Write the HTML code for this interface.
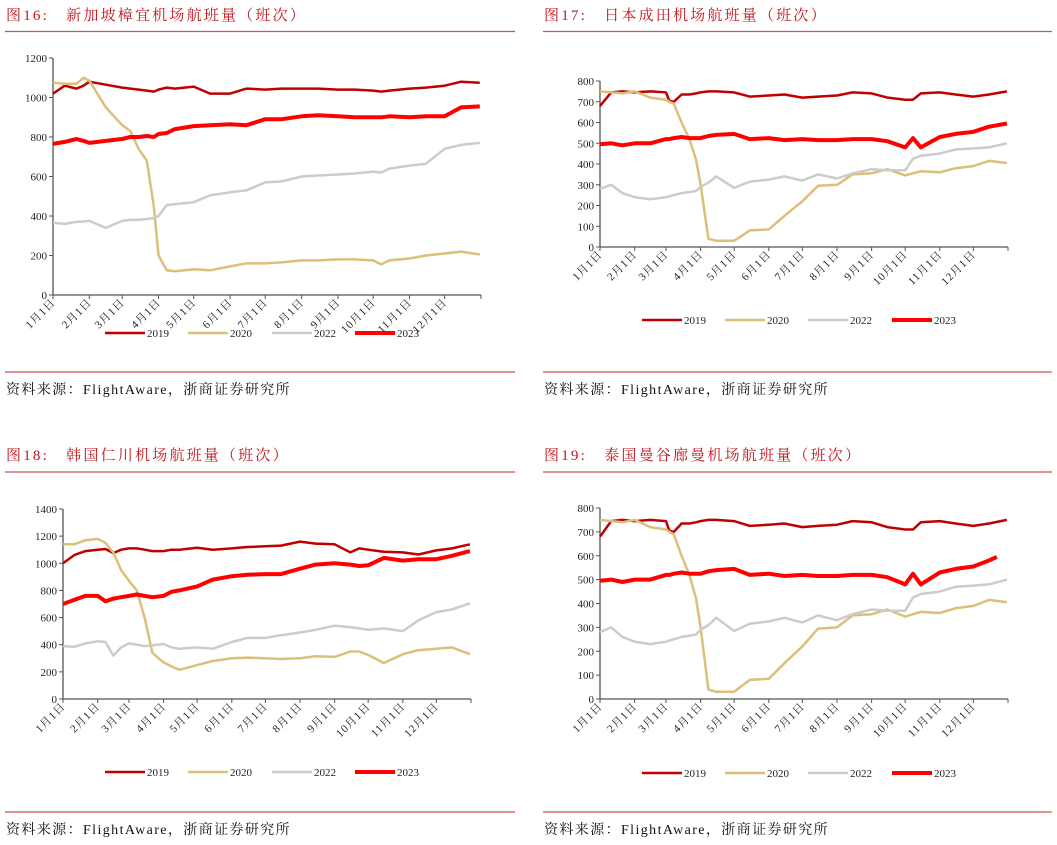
<!DOCTYPE html>
<html><head><meta charset="utf-8">
<style>
body{margin:0;background:#fff;}
svg{display:block;font-family:"Liberation Serif","Noto Serif CJK SC",serif;}
.title{font-family:"Liberation Serif","Noto Serif CJK SC",serif;font-size:15px;fill:#c0141c;letter-spacing:2.2px;}
.src{font-family:"Liberation Serif","Noto Serif CJK SC",serif;font-size:14px;fill:#111;letter-spacing:1.4px;}
.tick{font-size:11px;fill:#222;}
.leg{font-size:11px;fill:#222;}
</style></head>
<body>
<svg id="svg" width="1057" height="845" viewBox="0 0 1057 845" xmlns="http://www.w3.org/2000/svg">
<text class="title" x="6" y="20">图16:　新加坡樟宜机场航班量（班次）</text>
<line x1="5" y1="31.5" x2="515" y2="31.5" stroke="#d05050" stroke-width="1.2"/>
<line x1="5" y1="372" x2="515" y2="372" stroke="#d05050" stroke-width="1.2"/>
<text class="src" x="6" y="394">资料来源：FlightAware，浙商证券研究所</text>

<text class="title" x="544" y="20">图17:　日本成田机场航班量（班次）</text>
<line x1="543" y1="31.5" x2="1052" y2="31.5" stroke="#d05050" stroke-width="1.2"/>
<line x1="543" y1="372" x2="1052" y2="372" stroke="#d05050" stroke-width="1.2"/>
<text class="src" x="544" y="394">资料来源：FlightAware，浙商证券研究所</text>

<text class="title" x="6" y="460">图18:　韩国仁川机场航班量（班次）</text>
<line x1="5" y1="472" x2="515" y2="472" stroke="#d05050" stroke-width="1.2"/>
<line x1="5" y1="812" x2="515" y2="812" stroke="#d05050" stroke-width="1.2"/>
<text class="src" x="6" y="834">资料来源：FlightAware，浙商证券研究所</text>

<text class="title" x="544" y="460">图19:　泰国曼谷廊曼机场航班量（班次）</text>
<line x1="543" y1="472" x2="1052" y2="472" stroke="#d05050" stroke-width="1.2"/>
<line x1="543" y1="812" x2="1052" y2="812" stroke="#d05050" stroke-width="1.2"/>
<text class="src" x="544" y="834">资料来源：FlightAware，浙商证券研究所</text>
</svg>
<script>
const monthLabels=["1月1日","2月1日","3月1日","4月1日","5月1日","6月1日","7月1日","8月1日","9月1日","10月1日","11月1日","12月1日"];
const monthDays=[0,31,59,90,120,151,181,212,243,273,304,334];
const seriesNames=["2019","2020","2022","2023"];

const sinDays=[0,10,20,26,31,45,59,66,73,80,86,90,97,104,120,134,151,165,181,195,212,226,243,257,273,280,287,304,318,334,348,364];
const sin2019=[1020,1060,1045,1060,1080,1065,1050,1045,1040,1035,1030,1040,1050,1045,1055,1020,1020,1045,1040,1045,1045,1045,1040,1040,1035,1030,1035,1045,1050,1060,1080,1075];
const sin2020=[1075,1070,1070,1100,1085,950,860,830,740,680,450,200,125,120,130,125,145,160,160,165,175,175,180,180,175,155,175,185,200,210,220,205];
const sin2022=[365,360,370,372,375,340,375,380,380,385,390,400,455,460,470,505,520,530,570,575,600,605,610,615,625,620,640,655,665,740,760,770];
const sin2023=[765,775,790,780,770,780,790,800,800,805,800,815,820,840,855,860,865,860,890,890,905,910,905,900,900,900,905,900,905,905,950,955];

const nrtDays=[0,10,20,31,45,59,62,66,73,80,86,90,97,104,120,134,151,165,181,195,212,226,243,257,273,280,287,304,318,334,348,364];
const nrt2019=[680,745,750,745,750,745,705,700,735,735,740,745,750,750,745,725,730,735,720,725,730,745,740,720,710,710,740,745,735,725,735,750];
const nrt2020=[750,745,740,750,720,710,700,690,600,520,420,300,40,30,30,80,85,150,220,295,300,350,355,375,345,355,365,360,380,390,415,405];
const nrt2022=[280,300,260,240,230,240,245,250,260,265,270,290,310,340,285,315,325,340,320,350,330,355,375,370,370,425,440,450,470,475,480,500];
const nrt2023=[495,500,490,500,500,520,520,525,530,525,525,525,535,540,545,520,525,515,520,515,515,520,520,510,480,525,480,530,545,555,580,595];

const icnDays=[0,10,20,31,38,45,52,59,66,73,80,90,97,104,120,134,151,165,181,195,212,226,243,257,265,273,287,304,318,334,348,364];
const icn2019=[1000,1060,1090,1100,1105,1075,1100,1110,1110,1100,1090,1090,1100,1100,1115,1100,1110,1120,1125,1130,1160,1145,1140,1080,1110,1100,1085,1080,1065,1095,1110,1140];
const icn2020=[1140,1140,1170,1180,1150,1080,950,870,800,600,340,270,240,215,250,280,300,305,300,295,300,315,310,350,350,325,265,330,360,370,380,330];
const icn2022=[390,385,410,425,420,320,380,410,400,390,395,405,380,370,380,370,420,450,450,470,490,510,540,530,520,510,520,500,580,640,660,705];
const icn2023=[700,730,760,760,720,740,750,760,770,760,750,760,790,800,830,880,905,915,920,920,960,990,1000,990,980,985,1040,1020,1030,1030,1055,1090];

const dmkDays=[0,10,20,31,45,59,62,66,73,80,86,90,97,104,120,134,151,165,181,195,212,226,243,257,273,280,287,304,318,334,348,364];
const dmkDays2023=[0,10,20,31,45,59,62,66,73,80,86,90,97,104,120,134,151,165,181,195,212,226,243,257,273,280,287,304,318,334,348,355];
const dmk2019=[680,745,750,745,750,745,705,700,735,735,740,745,750,750,745,725,730,735,720,725,730,745,740,720,710,710,740,745,735,725,735,750];
const dmk2020=[750,745,740,750,720,710,700,690,600,520,420,300,40,30,30,80,85,150,220,295,300,350,355,375,345,355,365,360,380,390,415,405];
const dmk2022=[280,300,260,240,230,240,245,250,260,265,270,290,310,340,285,315,325,340,320,350,330,355,375,370,370,425,440,450,470,475,480,500];
const dmk2023=[495,500,490,500,500,520,520,525,530,525,525,525,535,540,545,520,525,515,520,515,515,520,520,510,480,525,480,530,545,555,580,595];

const svg=document.getElementById('svg');
const NS="http://www.w3.org/2000/svg";
const colors=["#c00000","#dcc07a","#cccccc","#ff0000"];
const widths=[2.5,2.5,2.5,4];
function mk(tag,attrs){const e=document.createElementNS(NS,tag);for(const k in attrs)e.setAttribute(k,attrs[k]);svg.appendChild(e);return e;}

function chart(id,box,ymax,step,series,legY,legX){
  const xs=d=>box.x0+d/365*(box.x1-box.x0);
  const ys=v=>box.y0-v/ymax*(box.y0-box.y1);
  let ax=mk('line',{x1:box.x0,y1:box.y1,x2:box.x0,y2:box.y0,stroke:'#555','stroke-width':1.3});
  
  
  for(let v=0;v<=ymax;v+=step){
    const t=mk('line',{x1:box.x0-4,y1:ys(v),x2:box.x0,y2:ys(v),stroke:'#555','stroke-width':1});
    
    
    const l=mk('text',{x:box.x0-6,y:ys(v)+4,'text-anchor':'end',class:'tick'});
    l.textContent=v;
    
    
  }
  let xa=mk('line',{x1:box.x0,y1:box.y0,x2:box.x1,y2:box.y0,stroke:'#555','stroke-width':1.3});
  
  
  const tk=monthDays.concat([365]);
  tk.forEach(d=>{const t=mk('line',{x1:xs(d),y1:box.y0,x2:xs(d),y2:box.y0+4,stroke:'#555','stroke-width':1});
    
    });
  monthDays.forEach((d,i)=>{
    const x=xs(d)+3,y=box.y0+8;
    const l=mk('text',{x:x,y:y,'text-anchor':'end',class:'tick',transform:`rotate(-45 ${x} ${y})`,'letter-spacing':'1'});
    l.textContent=monthLabels[i];
    
    
  });
  series.forEach((s,i)=>{
    const pts=s.days.map((d,j)=>xs(d).toFixed(1)+','+ys(s.vals[j]).toFixed(1)).join(' ');
    const p=mk('polyline',{points:pts,fill:'none',stroke:colors[i],'stroke-width':widths[i],'stroke-linejoin':'round'});
    
    
  });
  seriesNames.forEach((n,i)=>{
    const lx=legX[i];
    const l=mk('line',{x1:lx,y1:legY,x2:lx+40,y2:legY,stroke:colors[i],'stroke-width':widths[i]});
    
    
    const t=mk('text',{x:lx+42,y:legY+4,class:'leg'});
    t.textContent=n;
    
    
  });
}
const legL=[105,188,272,355], legR=[642,725,808,892];
chart('fig16',{x0:53,x1:481,y0:295,y1:58},1200,200,
 [{days:sinDays,vals:sin2019},{days:sinDays,vals:sin2020},{days:sinDays,vals:sin2022},{days:sinDays,vals:sin2023}],333,legL);
chart('fig17',{x0:600,x1:1008,y0:247,y1:81},800,100,
 [{days:nrtDays,vals:nrt2019},{days:nrtDays,vals:nrt2020},{days:nrtDays,vals:nrt2022},{days:nrtDays,vals:nrt2023}],320,legR);
chart('fig18',{x0:63,x1:471,y0:699,y1:509},1400,200,
 [{days:icnDays,vals:icn2019},{days:icnDays,vals:icn2020},{days:icnDays,vals:icn2022},{days:icnDays,vals:icn2023}],772,legL);
chart('fig19',{x0:600,x1:1008,y0:699,y1:508},800,100,
 [{days:dmkDays,vals:dmk2019},{days:dmkDays,vals:dmk2020},{days:dmkDays,vals:dmk2022},{days:dmkDays2023,vals:dmk2023}],773,legR);
</script>
</body></html>
